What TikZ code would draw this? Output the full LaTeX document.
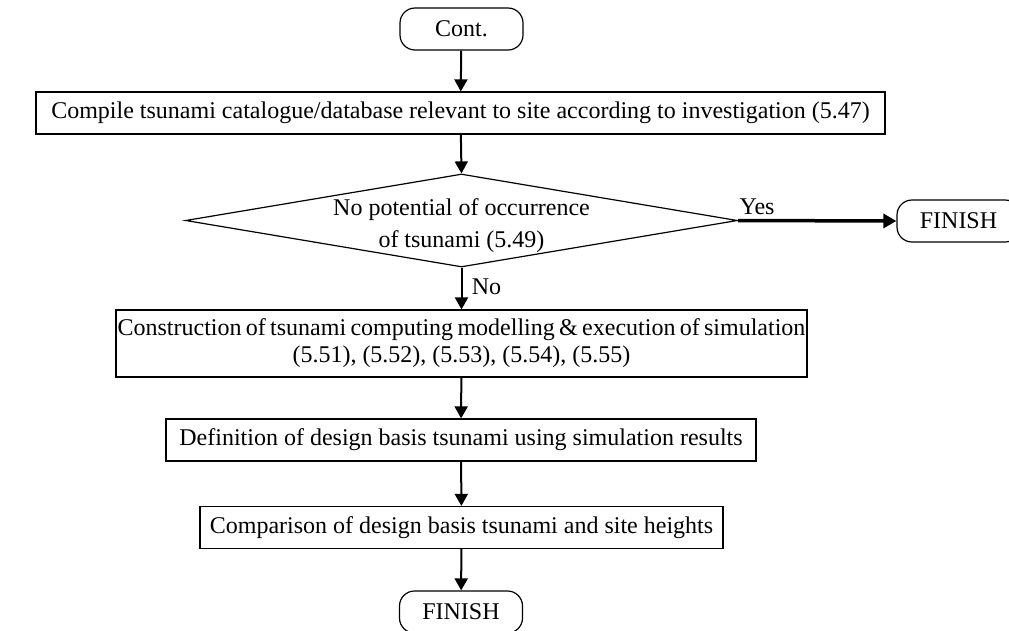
\documentclass[tikz,border=0pt]{standalone}
\usepackage{fontspec}
\setmainfont{Liberation Serif}
\usetikzlibrary{arrows.meta,shapes.geometric}
\begin{document}
\begin{tikzpicture}[x=1pt,y=-1pt,
  font=\fontsize{24}{29}\selectfont,
  procbox/.style={draw,line width=1.2pt,inner sep=0pt,align=center,minimum height=42pt},
  termbox/.style={draw,line width=1.2pt,rounded corners=15pt,inner sep=0pt,minimum width=123pt,minimum height=42pt},
  decbox/.style={draw,line width=1.2pt,diamond,inner sep=0pt,minimum width=552pt,minimum height=93pt,align=center,aspect=5.9},
  flow/.style={line width=2pt,-{Triangle[length=12pt,width=13pt]}},
  yesflow/.style={line width=3.5pt,-{Triangle[length=13pt,width=14pt]}}]
\useasboundingbox (0,0) rectangle (1009,630);
\node[termbox] (cont) at (461.5,29) {Cont.};
\node[procbox,minimum width=849pt] (b1) at (460.5,113) {Compile tsunami catalogue/database relevant to site according to investigation (5.47)};
\node[decbox] (d) at (461.5,220.5) {};
\node (dt) at (461.5,226) [align=center,font=\fontsize{24}{32}\selectfont] {No potential of occurrence\\of tsunami (5.49)};
\node[termbox] (f1) at (958.5,221) {FINISH};
\node[procbox,minimum width=691pt,minimum height=67pt,font=\fontsize{24}{27}\selectfont] (b2) at (461.5,343.5) {{\spaceskip=0.18em plus 0.05em minus 0.05em Construction of tsunami computing modelling \& execution of simulation}\\(5.51), (5.52), (5.53), (5.54), (5.55)};
\node[procbox,minimum width=590pt] (b3) at (461,440) {Definition of design basis tsunami using simulation results};
\node[procbox,minimum width=523pt] (b4) at (461.5,527.5) {Comparison of design basis tsunami and site heights};
\node[termbox] (f2) at (461,612) {FINISH};
\draw[flow] (cont) -- (b1);
\draw[flow] (b1) -- (d.north);
\draw[flow] (d.south) -- node[right,pos=0.45,xshift=6pt] (no) {No} (b2);
\draw[yesflow] (d.east) -- node[above,pos=0.12,yshift=1pt] (yes) {Yes} (f1.west);
\draw[flow] (b2) -- (b3);
\draw[flow] (b3) -- (b4);
\draw[flow] (b4) -- (f2);
\end{tikzpicture}
\end{document}
